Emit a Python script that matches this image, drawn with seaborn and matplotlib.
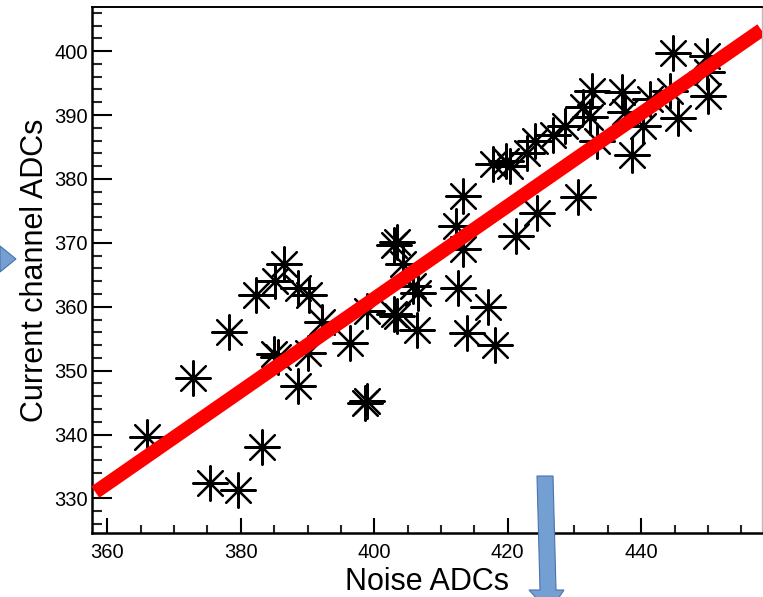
import matplotlib
matplotlib.use("Agg")
import matplotlib.pyplot as plt
import seaborn as sns
import pandas as pd
from matplotlib.patches import Polygon
from matplotlib.ticker import MultipleLocator

# ---- data ----
noise_adc = [365.9, 372.9, 375.4, 379.6, 378.3, 383.2, 382.3, 385.1, 386.4, 388.6,
             390.2, 384.9, 385.5, 388.6, 390.1, 392.1, 396.4, 398.9, 403.4, 403.0,
             404.3, 405.8, 406.6, 403.4, 403.0, 406.4, 412.5, 412.2, 413.3, 417.0,
             413.9, 418.1, 398.6, 398.9, 413.3, 421.3, 424.4, 430.5, 417.8, 419.7,
             420.3, 422.9, 424.1, 426.8, 428.6, 431.3, 432.4, 432.6, 433.4, 437.1,
             437.6, 440.3, 441.3, 438.6, 444.8, 444.3, 445.5, 449.8, 449.8, 450.0]
current_adc = [339.6, 348.8, 332.5, 331.3, 356.0, 338.0, 361.8, 364.1, 366.7, 362.9,
               361.8, 352.6, 352.1, 347.6, 352.7, 357.6, 354.4, 359.4, 370.1, 369.6,
               366.7, 363.3, 362.2, 358.5, 358.9, 356.3, 362.9, 372.7, 369.1, 359.9,
               355.9, 354.0, 344.9, 345.2, 377.4, 371.1, 374.7, 377.1, 382.4, 382.8,
               382.1, 384.1, 386.0, 386.9, 388.3, 391.3, 389.7, 393.8, 386.0, 393.6,
               390.5, 388.3, 392.5, 383.7, 399.7, 393.8, 389.6, 399.2, 396.7, 392.9]
fit_x = [358.2, 458.0]
fit_y = [331.0, 403.3]
x_ticks = [360, 380, 400, 420, 440]
y_ticks = [330, 340, 350, 360, 370, 380, 390, 400]
x_label = "Noise ADCs"
y_label = "Current channel ADCs"

sns.set_theme(style="white")
plt.rcParams["font.family"] = ["Liberation Sans", "DejaVu Sans"]

W, H = 763, 597
fig = plt.figure(figsize=(W / 100, H / 100), dpi=100)
ax = fig.add_axes([92 / W, 1 - 533 / H, 670 / W, 526 / H])

pts = pd.DataFrame({"noise": noise_adc, "current": current_adc})
sns.scatterplot(data=pts, x="noise", y="current", ax=ax, marker=(8, 2, 0),
                s=620, color="black", linewidth=1.6, zorder=2, legend=False)
fit = pd.DataFrame({"x": fit_x, "y": fit_y})
sns.lineplot(data=fit, x="x", y="y", ax=ax, color="#ff0000", linewidth=10,
             solid_capstyle="butt", zorder=3, legend=False)

ax.set_xlim(357.7, 458.1)
ax.set_ylim(324.6, 406.9)
ax.set_xticks(x_ticks)
ax.set_yticks(y_ticks)
ax.xaxis.set_minor_locator(MultipleLocator(5))
ax.yaxis.set_minor_locator(MultipleLocator(2))
ax.tick_params(axis="x", which="major", direction="in", length=11, width=1.5,
               labelsize=14.5, pad=7, colors="black")
ax.tick_params(axis="x", which="minor", direction="in", length=5.5, width=1.5)
ax.tick_params(axis="y", which="major", direction="in", length=14.5, width=1.5,
               labelsize=14.5, pad=3, colors="black")
ax.tick_params(axis="y", which="minor", direction="in", length=7, width=1.5)
ax.tick_params(bottom=True, left=True, which="both")

ax.set_xlabel(x_label, fontsize=22, labelpad=4, color="black")
ax.set_ylabel(y_label, fontsize=22, labelpad=3, color="black")

for side in ("left", "bottom"):
    ax.spines[side].set_color("black")
    ax.spines[side].set_linewidth(1.8)
ax.spines["top"].set_color("black")
ax.spines["top"].set_linewidth(1.4)
ax.spines["right"].set_color("#bbbbbb")
ax.spines["right"].set_linewidth(1.0)

# decorative blue arrows (from the slide)
fill_c = "#739fd2"
edge_c = "#4a72b0"
tri = Polygon([[0 / W, 1 - 246 / H], [16 / W, 1 - 259 / H], [0 / W, 1 - 272 / H]],
              closed=True, transform=fig.transFigure, facecolor=fill_c,
              edgecolor=edge_c, linewidth=0.8, clip_on=False)
fig.patches.append(tri)
shaft = Polygon([[537 / W, 1 - 476 / H], [553 / W, 1 - 476 / H],
                 [556 / W, 1 - 590 / H], [564 / W, 1 - 590 / H],
                 [549 / W, 1 - 612 / H], [529 / W, 1 - 590 / H],
                 [540 / W, 1 - 590 / H]],
                closed=True, transform=fig.transFigure, facecolor=fill_c,
                edgecolor=edge_c, linewidth=0.8, clip_on=False)
fig.patches.append(shaft)

fig.savefig("out.png", dpi=100)
